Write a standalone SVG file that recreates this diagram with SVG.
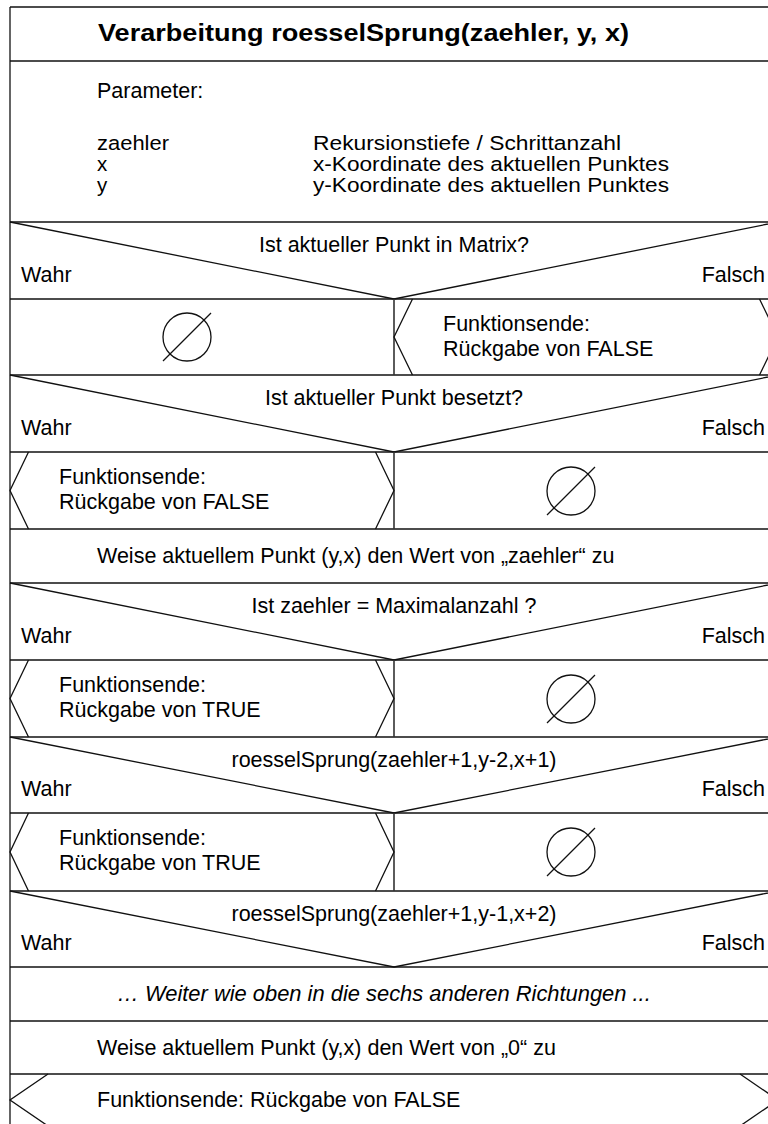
<svg xmlns="http://www.w3.org/2000/svg" width="768" height="1124" viewBox="0 0 768 1124">
  <style>
    .ln { stroke: #111; stroke-width: 1.3; fill: none; }
    .dv { stroke: #333; stroke-width: 1.6; fill: none; }
    .t { font-family: "Liberation Sans", Arial, sans-serif; font-size: 21.5px; fill: #000; }
    .p { font-size: 20.5px; }
    .c { text-anchor: middle; }
    .f { text-anchor: end; }
    .h { font-weight: bold; font-size: 24.5px; }
    .i { font-style: italic; font-size: 21.9px; }
  </style>
  <defs>
    <!-- empty-branch symbol: circle with diagonal stroke -->
    <g id="empty">
      <circle cx="0" cy="0" r="24" class="ln" stroke-width="2"/>
      <line x1="-24" y1="24" x2="24" y2="-24" class="ln" stroke-width="2"/>
    </g>
  </defs>
  <rect width="768" height="1124" fill="#fff"/>

  <!-- frame and block separators -->
  <g id="frame">
    <line x1="10" y1="7" x2="10" y2="1124" class="ln"/>
    <line x1="10" y1="7" x2="778" y2="7" class="ln"/>
    <line x1="10" y1="61" x2="778" y2="61" class="ln"/>
    <line x1="10" y1="222" x2="778" y2="222" class="ln"/>
    <line x1="10" y1="299" x2="778" y2="299" class="ln"/>
    <line x1="10" y1="375" x2="778" y2="375" class="ln"/>
    <line x1="10" y1="452" x2="778" y2="452" class="ln"/>
    <line x1="10" y1="529" x2="778" y2="529" class="ln"/>
    <line x1="10" y1="583" x2="778" y2="583" class="ln"/>
    <line x1="10" y1="660" x2="778" y2="660" class="ln"/>
    <line x1="10" y1="737" x2="778" y2="737" class="ln"/>
    <line x1="10" y1="813" x2="778" y2="813" class="ln"/>
    <line x1="10" y1="891" x2="778" y2="891" class="ln"/>
    <line x1="10" y1="967" x2="778" y2="967" class="ln"/>
    <line x1="10" y1="1021" x2="778" y2="1021" class="ln"/>
    <line x1="10" y1="1074" x2="778" y2="1074" class="ln"/>
  </g>

  <!-- title block -->
  <g id="title">
    <text x="98" y="41" class="t h" textLength="531" lengthAdjust="spacingAndGlyphs">Verarbeitung roesselSprung(zaehler, y, x)</text>
  </g>

  <!-- parameter block -->
  <g id="params">
    <text x="97" y="98" class="t">Parameter:</text>
    <text x="97" y="150" class="t p" textLength="72" lengthAdjust="spacingAndGlyphs">zaehler</text>
    <text x="97" y="171" class="t p">x</text>
    <text x="97" y="192" class="t p">y</text>
    <text x="313" y="150" class="t p" textLength="308" lengthAdjust="spacingAndGlyphs">Rekursionstiefe / Schrittanzahl</text>
    <text x="313" y="171" class="t p" textLength="356" lengthAdjust="spacingAndGlyphs">x-Koordinate des aktuellen Punktes</text>
    <text x="313" y="192" class="t p" textLength="356" lengthAdjust="spacingAndGlyphs">y-Koordinate des aktuellen Punktes</text>
  </g>

  <!-- decision 1 -->
  <g id="dec1">
    <polyline points="10,222 394,299 778,222" class="ln"/>
    <text x="394" y="252" class="t c">Ist aktueller Punkt in Matrix?</text>
    <text x="21" y="282" class="t">Wahr</text>
    <text x="765" y="282" class="t f">Falsch</text>
  </g>
  <g id="row1">
    <line x1="394" y1="299" x2="394" y2="375" class="dv"/>
    <use href="#empty" x="187" y="337"/>
    <polyline points="412.5,299 394,337 412.5,375" class="ln"/>
    <polyline points="759.5,299 778,337 759.5,375" class="ln"/>
    <text x="443" y="331" class="t">Funktionsende:</text>
    <text x="443" y="356" class="t">Rückgabe von FALSE</text>
  </g>

  <!-- decision 2 -->
  <g id="dec2">
    <polyline points="10,375 394,452 778,375" class="ln"/>
    <text x="394" y="405" class="t c">Ist aktueller Punkt besetzt?</text>
    <text x="21" y="435" class="t">Wahr</text>
    <text x="765" y="435" class="t f">Falsch</text>
  </g>
  <g id="row2">
    <line x1="394" y1="452" x2="394" y2="529" class="dv"/>
    <polyline points="28.5,452 10,490.5 28.5,529" class="ln"/>
    <polyline points="375.5,452 394,490.5 375.5,529" class="ln"/>
    <text x="59" y="484" class="t">Funktionsende:</text>
    <text x="59" y="509" class="t">Rückgabe von FALSE</text>
    <use href="#empty" x="571" y="491"/>
  </g>

  <!-- assignment -->
  <g id="assign1">
    <text x="97" y="563" class="t">Weise aktuellem Punkt (y,x) den Wert von „zaehler“ zu</text>
  </g>

  <!-- decision 3 -->
  <g id="dec3">
    <polyline points="10,583 394,660 778,583" class="ln"/>
    <text x="394" y="613" class="t c">Ist zaehler = Maximalanzahl ?</text>
    <text x="21" y="643" class="t">Wahr</text>
    <text x="765" y="643" class="t f">Falsch</text>
  </g>
  <g id="row3">
    <line x1="394" y1="660" x2="394" y2="737" class="dv"/>
    <polyline points="28.5,660 10,698.5 28.5,737" class="ln"/>
    <polyline points="375.5,660 394,698.5 375.5,737" class="ln"/>
    <text x="59" y="692" class="t">Funktionsende:</text>
    <text x="59" y="717" class="t">Rückgabe von TRUE</text>
    <use href="#empty" x="571" y="699"/>
  </g>

  <!-- decision 4 -->
  <g id="dec4">
    <polyline points="10,737 394,813 778,737" class="ln"/>
    <text x="394" y="767" class="t c">roesselSprung(zaehler+1,y-2,x+1)</text>
    <text x="21" y="796" class="t">Wahr</text>
    <text x="765" y="796" class="t f">Falsch</text>
  </g>
  <g id="row4">
    <line x1="394" y1="813" x2="394" y2="891" class="dv"/>
    <polyline points="28.5,813 10,852 28.5,891" class="ln"/>
    <polyline points="375.5,813 394,852 375.5,891" class="ln"/>
    <text x="59" y="845" class="t">Funktionsende:</text>
    <text x="59" y="870" class="t">Rückgabe von TRUE</text>
    <use href="#empty" x="571" y="852"/>
  </g>

  <!-- decision 5 -->
  <g id="dec5">
    <polyline points="10,891 394,967 778,891" class="ln"/>
    <text x="394" y="921" class="t c">roesselSprung(zaehler+1,y-1,x+2)</text>
    <text x="21" y="950" class="t">Wahr</text>
    <text x="765" y="950" class="t f">Falsch</text>
  </g>

  <!-- continuation note -->
  <g id="note">
    <text x="117" y="1001" class="t i">… Weiter wie oben in die sechs anderen Richtungen ...</text>
  </g>

  <!-- reset assignment -->
  <g id="assign2">
    <text x="97" y="1055" class="t">Weise aktuellem Punkt (y,x) den Wert von „0“ zu</text>
  </g>

  <!-- final return -->
  <g id="final">
    <polyline points="48,1074 10,1100 48,1126" class="ln"/>
    <polyline points="740,1074 778,1100 740,1126" class="ln"/>
    <text x="97" y="1107" class="t">Funktionsende: Rückgabe von FALSE</text>
  </g>
</svg>
